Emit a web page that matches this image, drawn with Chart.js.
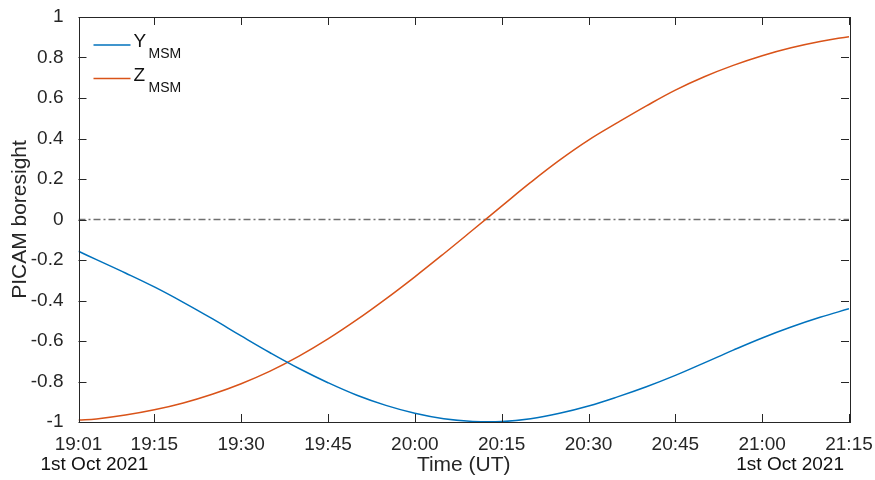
<!DOCTYPE html>
<html>
<head>
<meta charset="utf-8">
<script src="https://cdn.jsdelivr.net/npm/chart.js@4/dist/chart.umd.min.js"></script>
<style>
  html, body { margin: 0; padding: 0; background: #fff; }
  #wrap { width: 875px; height: 480px; }
</style>
</head>
<body>
<div id="wrap"><canvas id="chart-boresight"></canvas></div>
<script>
// minutes after 19:00 UT
const timeMin = [1.9, 5, 10, 15, 20, 25, 30, 35, 40, 45, 50, 55, 60, 65, 70,
                 75, 80, 85, 90, 95, 100, 105, 110, 115, 120, 125, 130, 135];
const yMsm = [-0.157, -0.198, -0.264, -0.333, -0.409, -0.490, -0.575, -0.658, -0.736, -0.806,
              -0.868, -0.918, -0.957, -0.984, -0.997, -0.998, -0.984, -0.957, -0.921, -0.876,
              -0.826, -0.770, -0.708, -0.645, -0.585, -0.531, -0.483, -0.441];
const zMsm = [-0.990, -0.985, -0.966, -0.940, -0.906, -0.863, -0.811, -0.749, -0.675, -0.590,
              -0.495, -0.392, -0.283, -0.169, -0.052, 0.066, 0.183, 0.293, 0.392, 0.478,
              0.561, 0.639, 0.705, 0.761, 0.809, 0.848, 0.879, 0.903];
const tickMin = [1.9, 15, 30, 45, 60, 75, 90, 105, 120, 135];
const tickLabels = ['19:01', '19:15', '19:30', '19:45', '20:00', '20:15', '20:30', '20:45', '21:00', '21:15'];
const dateLabel = '1st Oct 2021';
const seriesNames = ['Y', 'Z'];
const seriesSub = 'MSM';
const seriesColors = ['#0072BD', '#D95319'];

const FONT = '"Liberation Sans", Arial, Helvetica, sans-serif';
const AXIS = '#262626';

const toPoints = vals => vals.map((v, i) => ({ x: timeMin[i], y: v }));

// MATLAB-like box with inward ticks, date labels and a subscript legend
const matlabAxes = {
    id: 'matlabAxes',
    afterDatasetsDraw(chart) {
        const ctx = chart.ctx;
        const a = chart.chartArea;
        const xs = chart.scales.x, ys = chart.scales.y;
        const tl = 8;
        ctx.save();
        ctx.strokeStyle = AXIS;
        ctx.lineWidth = 1;
        ctx.beginPath();
        xs.ticks.forEach(t => {
            const px = Math.round(xs.getPixelForValue(t.value)) + 0.5;
            ctx.moveTo(px, a.bottom); ctx.lineTo(px, a.bottom - tl);
            ctx.moveTo(px, a.top); ctx.lineTo(px, a.top + tl);
        });
        ys.ticks.forEach(t => {
            const py = Math.round(ys.getPixelForValue(t.value)) + 0.5;
            ctx.moveTo(a.left, py); ctx.lineTo(a.left + tl, py);
            ctx.moveTo(a.right, py); ctx.lineTo(a.right - tl, py);
        });
        ctx.stroke();
        ctx.strokeRect(Math.round(a.left) + 0.5, Math.round(a.top) + 0.5,
                       Math.round(a.right - a.left), Math.round(a.bottom - a.top));

        // date under first and last tick
        ctx.fillStyle = '#111';
        ctx.font = '19px ' + FONT;
        ctx.textBaseline = 'alphabetic';
        ctx.textAlign = 'left';
        ctx.fillText(dateLabel, a.left - 38, a.bottom + 48);
        ctx.textAlign = 'right';
        ctx.fillText(dateLabel, a.right - 5, a.bottom + 48);

        // legend
        ctx.textAlign = 'left';
        seriesNames.forEach((name, i) => {
            const ly = a.top + 28 + i * 33.5;
            ctx.strokeStyle = seriesColors[i];
            ctx.lineWidth = 1.5;
            ctx.beginPath();
            ctx.moveTo(a.left + 15, ly);
            ctx.lineTo(a.left + 52, ly);
            ctx.stroke();
            ctx.fillStyle = '#111';
            ctx.font = '19px ' + FONT;
            ctx.fillText(name, a.left + 55, ly + 2);
            ctx.font = '14px ' + FONT;
            ctx.fillText(seriesSub, a.left + 70, ly + 13);
        });
        ctx.restore();
    }
};

new Chart(document.getElementById('chart-boresight'), {
    type: 'line',
    data: {
        datasets: [
            {
                label: 'Y_MSM',
                data: toPoints(yMsm),
                borderColor: seriesColors[0],
                borderWidth: 1.5,
                pointRadius: 0,
                tension: 0.4
            },
            {
                label: 'Z_MSM',
                data: toPoints(zMsm),
                borderColor: seriesColors[1],
                borderWidth: 1.5,
                pointRadius: 0,
                tension: 0.4
            },
            {
                label: 'zero',
                data: [{ x: timeMin[0], y: 0 }, { x: timeMin[timeMin.length - 1], y: 0 }],
                borderColor: '#6f6f6f',
                borderWidth: 1.5,
                borderDash: [7, 3, 2, 3],
                pointRadius: 0
            }
        ]
    },
    plugins: [matlabAxes],
    options: {
        responsive: true,
        maintainAspectRatio: false,
        animation: false,
        layout: { padding: { left: 0, top: 17, right: 26, bottom: 0 } },
        plugins: {
            legend: { display: false },
            tooltip: { enabled: false }
        },
        scales: {
            x: {
                type: 'linear',
                min: timeMin[0],
                max: timeMin[timeMin.length - 1],
                afterBuildTicks: scale => { scale.ticks = tickMin.map(v => ({ value: v })); },
                afterFit: scale => {
                    scale.height = 58;
                    scale.paddingLeft = 0;
                    scale.paddingRight = 0;
                },
                grid: { display: false },
                border: { display: false },
                ticks: {
                    autoSkip: false,
                    maxRotation: 0,
                    padding: 3,
                    color: AXIS,
                    font: { family: FONT, size: 19 },
                    callback: (v, i) => tickLabels[i]
                },
                title: {
                    display: true,
                    text: 'Time (UT)',
                    color: AXIS,
                    font: { family: FONT, size: 21 },
                    padding: { top: 0, bottom: 2 }
                }
            },
            y: {
                min: -1,
                max: 1,
                afterFit: scale => {
                    scale.width = 78.5;
                    scale.paddingTop = 0;
                    scale.paddingBottom = 0;
                },
                grid: { display: false },
                border: { display: false },
                ticks: {
                    stepSize: 0.2,
                    padding: 7,
                    color: AXIS,
                    font: { family: FONT, size: 19 },
                    callback: v => String(Math.round(v * 10) / 10)
                },
                title: {
                    display: true,
                    text: 'PICAM boresight',
                    color: AXIS,
                    font: { family: FONT, size: 21 },
                    padding: { top: 8, bottom: 0 }
                }
            }
        }
    }
});
</script>
</body>
</html>
